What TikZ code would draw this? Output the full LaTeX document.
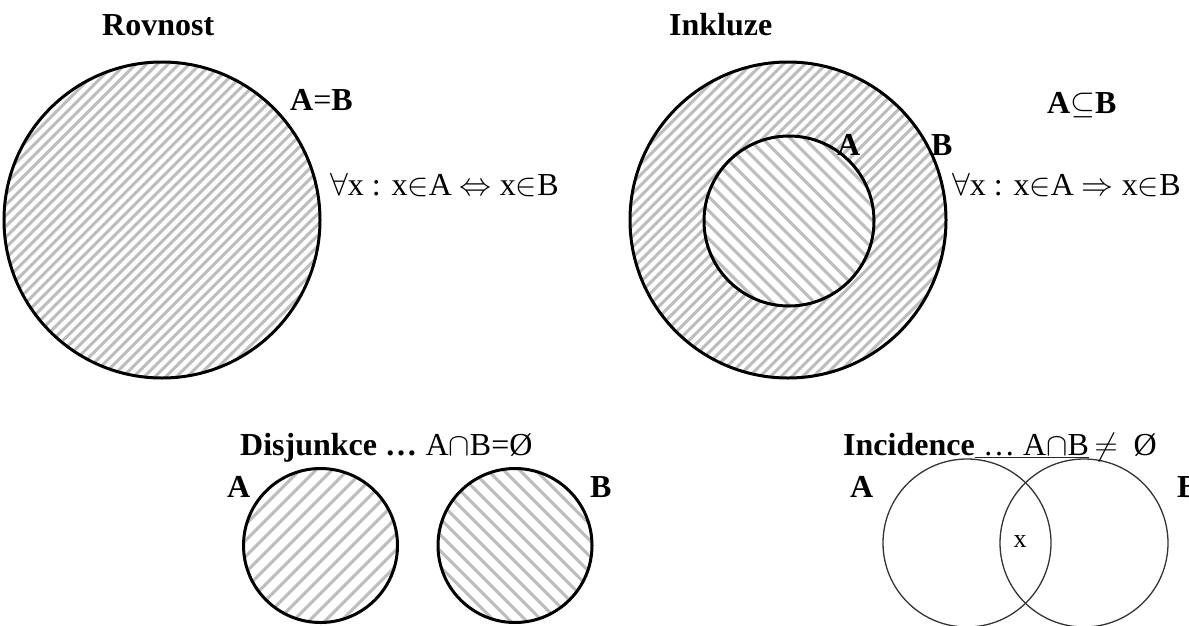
\RequirePackage{fix-cm}
\documentclass[tikz,border=0pt]{standalone}
\usepackage{fontspec}
\setmainfont{Liberation Serif}
\definecolor{hatchgray}{HTML}{BDBDBD}
\newcommand{\hatchNE}[4]{%
  \begin{scope}
    \clip (#1,#2) circle[radius=#3];
    \fill[white] (#1,#2) circle[radius=#3];
    \foreach \k in {-36,...,36}
      \draw[hatchline] ({#1+\k*#4-#3-5},{#2+#3+5}) -- ({#1+\k*#4+#3+5},{#2-#3-5});
  \end{scope}}
\newcommand{\hatchNW}[4]{%
  \begin{scope}
    \clip (#1,#2) circle[radius=#3];
    \fill[white] (#1,#2) circle[radius=#3];
    \foreach \k in {-36,...,36}
      \draw[hatchline] ({#1+\k*#4-#3-5},{#2-#3-5}) -- ({#1+\k*#4+#3+5},{#2+#3+5});
  \end{scope}}
\begin{document}
\begin{tikzpicture}[x=1pt,y=-1pt,
  lbl/.style={inner sep=0pt, anchor=base west, font=\fontsize{32}{38}\selectfont},
  blbl/.style={inner sep=0pt, anchor=base west, font=\fontsize{32}{38}\selectfont\bfseries},
  thickring/.style={line width=3pt, draw=black},
  thinring/.style={line width=1.3pt, draw=black!80},
  hatchline/.style={line width=3pt, draw=hatchgray},
  uline/.style={line width=1.3pt, draw=black!85}]
\clip (0,0) rectangle (1189,625);

% ---------- Rovnost ----------
\hatchNE{162}{220}{158}{10.7}
\draw[thickring] (162,220) circle[radius=158];
\node[blbl] (rov) at (102,35) {Rovnost};
\node[lbl] (eqAB) at (290,110) {\textbf{A}=\textbf{B}};
\node[lbl] (eqdef) at (330,195) {$\forall$x : x$\in$A $\Leftrightarrow$ x$\in$B};

% ---------- Inkluze ----------
\hatchNE{788}{220}{158}{10.7}
\hatchNW{789}{221}{85}{14}
\draw[thickring] (788,220) circle[radius=158];
\draw[thickring] (789,221) circle[radius=85];
\node[blbl] (ink) at (669,35) {Inkluze};
\node[blbl] (inA) at (837,155) {A};
\node[blbl] (inB) at (931,155) {B};
\node[lbl] (subAB) at (1047,113) {\textbf{A}$\subseteq$\textbf{B}};
\node[lbl] (subdef) at (952,195) {$\forall$x : x$\in$A $\Rightarrow$ x$\in$B};

% ---------- Disjunkce ----------
\hatchNE{320.5}{545.5}{77}{16}
\hatchNW{515}{545.5}{77}{16}
\draw[thickring] (320.5,545.5) circle[radius=77];
\draw[thickring] (515,545.5) circle[radius=77];
\node[blbl] (dis) at (240,455) {Disjunkce …};
\node[lbl] (disf) at (dis.base east) {\ A$\cap$B=Ø};
\node[blbl] (dA) at (227,497) {A};
\node[blbl] (dB) at (590,497) {B};

% ---------- Incidence ----------
\draw[thinring] (967,543) circle[radius=84];
\draw[thinring] (1084,543) circle[radius=84];
\node[blbl] (inc) at (843,455) {Incidence};
\node[lbl] (incm) at (inc.base east) {\ … A$\cap$B};
\node[lbl] (incf) at (incm.base east) {\,$\neq$\ \ Ø};
\draw[uline] ([yshift=-2.5pt]incm.base west) -- ([yshift=-2.5pt]incm.base east);
\node[blbl] (iA) at (850,497) {A};
\node[blbl] (iB) at (1177,497) {B};
\node[inner sep=0pt, font=\fontsize{26}{30}\selectfont] (ix) at (1020,542) {x};
\end{tikzpicture}
\end{document}
